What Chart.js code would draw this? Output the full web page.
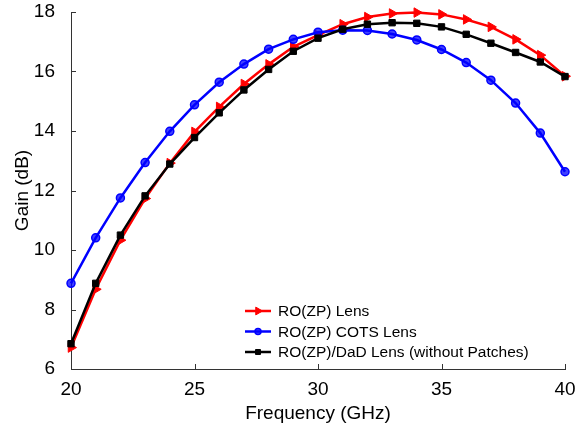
<!DOCTYPE html>
<html>
<head>
<meta charset="utf-8">
<script src="https://cdn.jsdelivr.net/npm/chart.js@4/dist/chart.umd.min.js"></script>
<style>
  html, body { margin: 0; padding: 0; background: #fff; }
  #wrap { width: 583px; height: 425px; }
</style>
</head>
<body>
<div id="wrap"><canvas id="graph" width="583" height="425"></canvas></div>
<script>
// Frequencies (GHz) and measured gain (dB) for each lens
const freqs = [20, 21, 22, 23, 24, 25, 26, 27, 28, 29, 30, 31, 32, 33, 34, 35, 36, 37, 38, 39, 40];
const gainZpLens = [6.72, 8.68, 10.33, 11.73, 12.92, 13.97, 14.81, 15.58, 16.24, 16.83, 17.22, 17.59, 17.83, 17.95, 17.98, 17.92, 17.75, 17.50, 17.08, 16.55, 15.84];
const gainCotsLens = [8.88, 10.41, 11.75, 12.94, 13.99, 14.88, 15.64, 16.25, 16.75, 17.08, 17.32, 17.39, 17.38, 17.26, 17.06, 16.74, 16.30, 15.71, 14.94, 13.93, 12.63];
const gainDadLens = [6.85, 8.88, 10.50, 11.82, 12.89, 13.78, 14.61, 15.38, 16.07, 16.68, 17.12, 17.42, 17.59, 17.64, 17.62, 17.50, 17.25, 16.95, 16.64, 16.32, 15.83];
const seriesLabels = ['RO(ZP) Lens', 'RO(ZP) COTS Lens', 'RO(ZP)/DaD Lens (without Patches)'];
const xTicks = [20, 25, 30, 35, 40];
const yTicks = [6, 8, 10, 12, 14, 16, 18];

const FONT = '"Liberation Sans", Arial, Helvetica, sans-serif';

const toPoints = (vals) => freqs.map((f, i) => ({ x: f, y: vals[i] }));

// inward tick marks on left and bottom axes
const innerTicks = {
  id: 'innerTicks',
  afterDraw(chart) {
    const ctx = chart.ctx;
    const xs = chart.scales.x, ys = chart.scales.y;
    const len = 5;
    ctx.save();
    ctx.strokeStyle = '#333';
    ctx.lineWidth = 1;
    ctx.beginPath();
    xTicks.forEach((v) => {
      const px = Math.round(xs.getPixelForValue(v)) + 0.5;
      ctx.moveTo(px, ys.bottom);
      ctx.lineTo(px, ys.bottom - len);
    });
    yTicks.forEach((v) => {
      const py = Math.round(ys.getPixelForValue(v)) + 0.5;
      ctx.moveTo(xs.left, py);
      ctx.lineTo(xs.left + len, py);
    });
    ctx.stroke();
    ctx.restore();
  }
};

// legend with line + marker, drawn inside the plot
const lineLegend = {
  id: 'lineLegend',
  afterDraw(chart) {
    const ctx = chart.ctx;
    const x0 = 245, y0 = 311, rowH = 20.5;
    ctx.save();
    chart.data.datasets.forEach((ds, i) => {
      const y = y0 + i * rowH;
      ctx.strokeStyle = ds.borderColor;
      ctx.lineWidth = 2.5;
      ctx.beginPath();
      ctx.moveTo(x0, y);
      ctx.lineTo(x0 + 26, y);
      ctx.stroke();
      ctx.fillStyle = ds.pointBackgroundColor;
      ctx.strokeStyle = ds.borderColor;
      ctx.lineWidth = ds.pointBorderWidth;
      Chart.helpers.drawPoint(ctx, {
        pointStyle: ds.pointStyle,
        rotation: ds.pointRotation || 0,
        radius: ds.pointRadius - 1,
        borderWidth: ds.pointBorderWidth
      }, x0 + 13, y);
      ctx.fillStyle = '#000';
      ctx.font = '15.5px ' + FONT;
      ctx.textBaseline = 'middle';
      ctx.fillText(ds.label, x0 + 33, y + 1);
    });
    ctx.restore();
  }
};

const ctx = document.getElementById('graph').getContext('2d');
new Chart(ctx, {
  type: 'line',
  data: {
    datasets: [
      {
        label: seriesLabels[0],
        data: toPoints(gainZpLens),
        borderColor: '#ff0000',
        pointBackgroundColor: '#ff0000',
        pointBorderColor: '#ff0000',
        pointStyle: 'triangle',
        pointRotation: 90,
        pointRadius: 5.5,
        pointBorderWidth: 1,
        borderWidth: 2.5,
        order: 3,
        clip: false
      },
      {
        label: seriesLabels[1],
        data: toPoints(gainCotsLens),
        borderColor: '#0000ff',
        pointBackgroundColor: 'rgba(0,0,255,0.75)',
        pointBorderColor: '#0000ff',
        pointStyle: 'circle',
        pointRadius: 4,
        pointBorderWidth: 1.5,
        borderWidth: 2.5,
        order: 2,
        clip: false
      },
      {
        label: seriesLabels[2],
        data: toPoints(gainDadLens),
        borderColor: '#000000',
        pointBackgroundColor: '#000000',
        pointBorderColor: '#000000',
        pointStyle: 'rect',
        pointRadius: 4.5,
        pointBorderWidth: 1,
        borderWidth: 2.5,
        order: 1,
        clip: false
      }
    ]
  },
  options: {
    responsive: false,
    animation: false,
    layout: { padding: { left: 0, top: 12, right: 18, bottom: 0 } },
    elements: { line: { tension: 0 } },
    plugins: {
      legend: { display: false },
      tooltip: { enabled: false }
    },
    scales: {
      x: {
        type: 'linear',
        min: 20,
        max: 40,
        afterFit: (s) => { s.height = 56; s.paddingLeft = 0; s.paddingRight = 0; },
        afterBuildTicks: (s) => { s.ticks = xTicks.map((v) => ({ value: v })); },
        grid: { display: false },
        border: { display: true, color: '#333', width: 1 },
        ticks: { color: '#000', padding: 1, font: { family: FONT, size: 19 } },
        title: {
          display: true,
          text: 'Frequency (GHz)',
          color: '#000',
          padding: { top: 2, bottom: 0 },
          font: { family: FONT, size: 19 }
        }
      },
      y: {
        min: 6,
        max: 18,
        afterFit: (s) => { s.width = 71; s.paddingTop = 0; s.paddingBottom = 0; },
        afterBuildTicks: (s) => { s.ticks = yTicks.map((v) => ({ value: v })); },
        grid: { display: false },
        border: { display: true, color: '#333', width: 1 },
        ticks: { color: '#000', padding: 8, font: { family: FONT, size: 19 } },
        title: {
          display: true,
          text: 'Gain (dB)',
          color: '#000',
          padding: { top: 11, bottom: 0 },
          font: { family: FONT, size: 19 }
        }
      }
    }
  },
  plugins: [innerTicks, lineLegend]
});
</script>
</body>
</html>
